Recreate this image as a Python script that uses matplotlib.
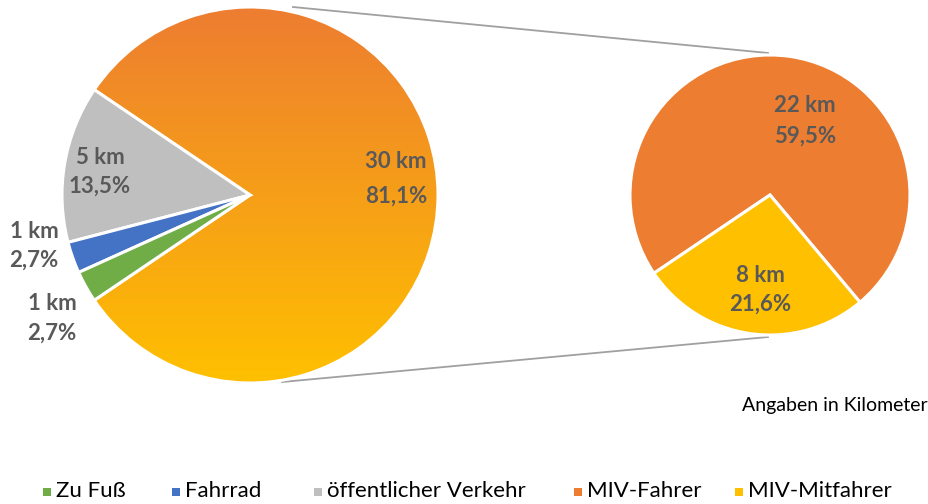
import numpy as np
import matplotlib
matplotlib.use("Agg")
import matplotlib.pyplot as plt
from matplotlib.patches import Rectangle
from matplotlib.colors import to_rgb

# ---- data ----
main_labels = ["MIV", "öffentlicher Verkehr", "Fahrrad", "Zu Fuß"]
main_km = [30, 5, 1, 1]
main_pct = ["81,1%", "13,5%", "2,7%", "2,7%"]
sub_labels = ["MIV-Fahrer", "MIV-Mitfahrer"]
sub_km = [22, 8]
sub_pct = ["59,5%", "21,6%"]
legend_labels = ["Zu Fuß", "Fahrrad", "öffentlicher Verkehr", "MIV-Fahrer", "MIV-Mitfahrer"]

ORANGE = "#ED7D31"
YELLOW = "#FFC000"
GRAY = "#BFBFBF"
BLUE = "#4472C4"
GREEN = "#70AD47"
legend_colors = [GREEN, BLUE, GRAY, ORANGE, YELLOW]

W, H = 929, 504
fig = plt.figure(figsize=(W / 100, H / 100), dpi=100)
ax = fig.add_axes([0, 0, 1, 1])

def py(y):
    return H - y

LFONT = "Lato"
LBL_COLOR = "#595959"

# ---- main pie ----
c1 = (250, py(195))
r1 = 188
total = sum(main_km)
start = -(main_km[0] / total) * 180
wedges1, _ = ax.pie(main_km, colors=["none", GRAY, BLUE, GREEN], startangle=start,
                    counterclock=True, center=c1, radius=r1,
                    wedgeprops=dict(edgecolor="white", linewidth=2.2), frame=True)
grad = np.linspace(0, 1, 256)[:, None, None]
o = np.array(to_rgb(ORANGE)); yv = np.array(to_rgb(YELLOW))
img = o * (1 - grad) + yv * grad
im = ax.imshow(img, extent=(c1[0] - r1, c1[0] + r1, c1[1] - r1, c1[1] + r1),
               origin="upper", aspect="auto", zorder=0.5, interpolation="bilinear")
im.set_clip_path(wedges1[0])
wedges1[0].set_zorder(1)

# ---- sub pie ----
c2 = (770, py(195))
r2 = 140
wedges2, _ = ax.pie(sub_km, colors=[ORANGE, YELLOW], startangle=310,
                    counterclock=True, center=c2, radius=r2,
                    wedgeprops=dict(edgecolor="white", linewidth=2.2), frame=True)

ax.set_xlim(0, W)
ax.set_ylim(0, H)
ax.set_aspect("equal")
ax.axis("off")

# ---- connector lines ----
ax.plot([293, 768], [py(7), py(53)], color="#A0A0A0", lw=1.3, zorder=0.2)
ax.plot([282, 768], [py(382), py(337)], color="#A0A0A0", lw=1.3, zorder=0.2)

# ---- data labels ----
FS = 16
def lab(x, y1, y2, km, pct):
    ax.text(x, py(y1), f"{km} km", ha="center", va="center", fontsize=FS,
            fontweight="bold", color=LBL_COLOR, family=LFONT, zorder=5)
    ax.text(x, py(y2), pct, ha="center", va="center", fontsize=FS,
            fontweight="bold", color=LBL_COLOR, family=LFONT, zorder=5)

lab(396, 161, 196, main_km[0], main_pct[0])
lab(100, 157, 186, main_km[1], main_pct[1])
lab(34, 231, 260, main_km[2], main_pct[2])
lab(52, 304, 333, main_km[3], main_pct[3])
lab(805, 106, 136, sub_km[0], sub_pct[0])
lab(760, 276, 304, sub_km[1], sub_pct[1])

# ---- note ----
ax.text(928, py(405), "Angaben in Kilometer", ha="right", va="center",
        fontsize=14, color="black", family=LFONT)

# ---- legend ----
mx = [47, 176, 318, 578, 739]
for x, c, t in zip(mx, legend_colors, legend_labels):
    ax.add_patch(Rectangle((x - 4, py(492) - 4), 8, 8, facecolor=c, edgecolor="none"))
    ax.text(x + 9, py(491), t, ha="left", va="center", fontsize=16,
            color="black", family=LFONT)

fig.savefig("out.png", dpi=100)
